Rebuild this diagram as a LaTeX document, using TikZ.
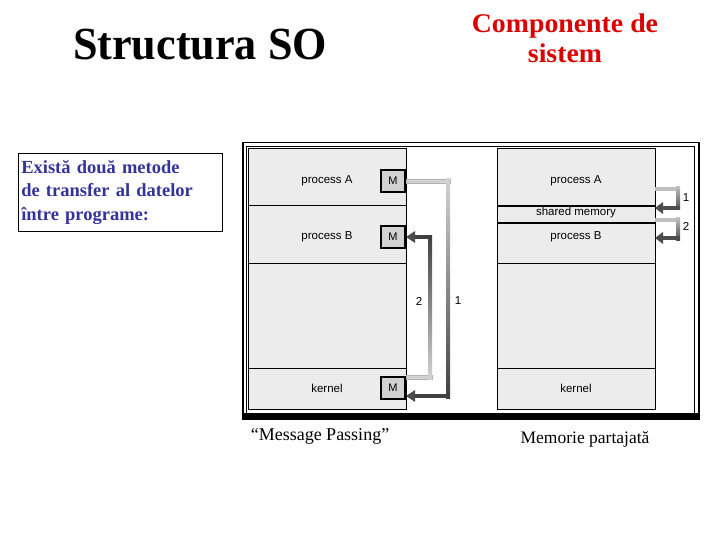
\documentclass[tikz,border=0pt]{standalone}
\usepackage{fontspec}
\setmainfont{Liberation Serif}
\newfontfamily\arial{Liberation Sans}
\definecolor{introblue}{rgb}{0.2,0.2,0.6}
\begin{document}
\begin{tikzpicture}[x=1pt,y=-1pt,
  blk/.style={draw=black,line width=0.8pt,fill=gray!15},
  mbox/.style={draw=black,line width=1.5pt,fill=gray!35,minimum width=24pt,minimum height=22pt,inner sep=0pt,font=\arial\fontsize{11}{13}\selectfont},
  lab/.style={font=\arial\fontsize{11.5}{13}\selectfont},
  head/.style={fill=black!70}]
\useasboundingbox (0,0) rectangle (720,540);
% titles
\node[font=\bfseries\fontsize{46}{50}\selectfont,xscale=0.96] (t1) at (200,45) {Structura SO};
\node[font=\bfseries\fontsize{27}{30}\selectfont,text=red!85!black,align=center,xscale=1.03] (t2) at (565,38) {Componente de\\sistem};
\node[draw=black,line width=0.6pt,minimum width=204pt,minimum height=78pt,text width=198pt,align=left,inner sep=3pt,font=\bfseries\fontsize{18.5}{23.5}\selectfont,text=introblue,anchor=north west] (intro) at (18,153) {Există două metode\\de transfer al datelor\\între programe:};
% frame
\node[draw=black,line width=1.5pt,minimum width=456pt,minimum height=276pt,anchor=north west,inner sep=0pt] (frame) at (242,142) {};
\fill[black] (242,413) rectangle (698,420);
\draw[line width=0.6pt] (246,146) rectangle (694,414);
% left column
\node[blk,minimum width=158pt,minimum height=57pt,anchor=north west,inner sep=0pt] (pA) at (248,148) {};
\node[blk,minimum width=158pt,minimum height=58pt,anchor=north west,inner sep=0pt] (pB) at (248,205) {};
\node[blk,minimum width=158pt,minimum height=105pt,anchor=north west,inner sep=0pt] (free) at (248,263) {};
\node[blk,minimum width=158pt,minimum height=41pt,anchor=north west,inner sep=0pt] (kern) at (248,368) {};
\node[lab] (la) at (327,181) {process A};
\node[lab] (lb) at (327,237) {process B};
\node[lab] (lk) at (327,388) {kernel};
\node[mbox] (mA) at (393,181) {M};
\node[mbox] (mB) at (393,237) {M};
\node[mbox] (mK) at (393,388) {M};
% arrow 1 (light -> dark)
\fill[gray!35,draw=gray!60,line width=0.4pt] (mA.east|-0,179) rectangle (450,183);
\shade[top color=gray!35,bottom color=black!75] (446,179) rectangle (450,398);
\fill[black!75] (411,394) rectangle (450,398);
\fill[head] (406,396) -- (415,390) -- (415,402) -- cycle;
% arrow 2 (light -> dark)
\fill[gray!35,draw=gray!60,line width=0.4pt] (mK.east|-0,375) rectangle (432,379);
\shade[top color=black!75,bottom color=gray!35] (428,235) rectangle (432,379);
\fill[black!75] (411,235) rectangle (432,239);
\fill[head] (406,237) -- (415,231) -- (415,243) -- cycle;
\node[lab] (n2) at (419,301) {2};
\node[lab] (n1) at (458,301) {1};
% right column
\node[blk,minimum width=158pt,minimum height=58pt,anchor=north west,inner sep=0pt] (qA) at (497,148) {};
\node[blk,minimum width=158pt,minimum height=16pt,anchor=north west,inner sep=0pt] (sh) at (497,206) {};
\node[blk,minimum width=158pt,minimum height=41pt,anchor=north west,inner sep=0pt] (qB) at (497,222) {};
\node[blk,minimum width=158pt,minimum height=105pt,anchor=north west,inner sep=0pt] (free2) at (497,263) {};
\node[blk,minimum width=158pt,minimum height=41pt,anchor=north west,inner sep=0pt] (kern2) at (497,368) {};
\draw[line width=1.6pt] (sh.north west) -- (sh.north east) (sh.south west) -- (sh.south east);
\node[lab] (ra) at (576,181) {process A};
\node[lab] (rs) at (576,213) {shared memory};
\node[lab] (rb) at (576,237) {process B};
\node[lab] (rk) at (576,388) {kernel};
% right arrows
\fill[gray!50] (655,187) rectangle (680,191);
\shade[top color=gray!50,bottom color=black!70] (676,187) rectangle (680,210);
\fill[black!70] (662,206) rectangle (680,210);
\fill[head] (655,208) -- (663,202) -- (663,214) -- cycle;
\fill[gray!50] (655,218) rectangle (680,222);
\shade[top color=gray!50,bottom color=black!70] (676,218) rectangle (680,240);
\fill[black!70] (662,236) rectangle (680,240);
\fill[head] (655,238) -- (663,232) -- (663,244) -- cycle;
\node[lab] (r1) at (686,198) {1};
\node[lab] (r2) at (686,226) {2};
% captions
\node[font=\fontsize{18}{20}\selectfont] (c1) at (320,436) {“Message Passing”};
\node[font=\fontsize{17.5}{20}\selectfont] (c2) at (585,439) {Memorie partajată};
\end{tikzpicture}
\end{document}
